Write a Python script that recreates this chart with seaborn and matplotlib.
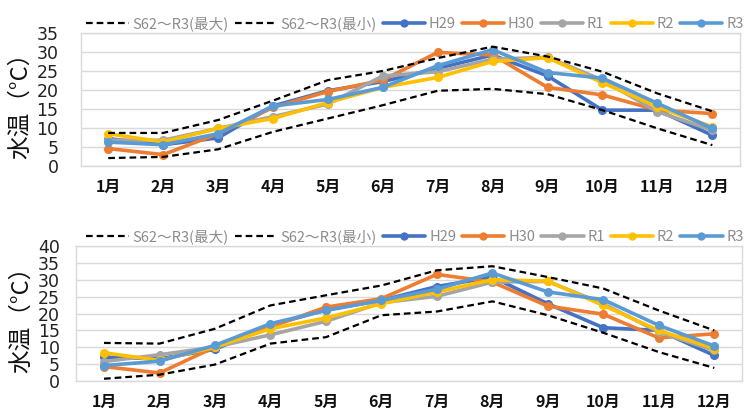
import matplotlib
matplotlib.use("Agg")
import matplotlib.pyplot as plt
import seaborn as sns
import pandas as pd
from matplotlib.lines import Line2D

months = ["1月", "2月", "3月", "4月", "5月", "6月", "7月", "8月", "9月", "10月", "11月", "12月"]
series_names = ["S62～R3(最大)", "S62～R3(最小)", "H29", "H30", "R1", "R2", "R3"]

# Top chart
top_max = [8.7, 8.7, 12.1, 17.2, 22.6, 25.0, 28.4, 31.4, 28.8, 24.8, 19.1, 14.4]
top_min = [2.1, 2.4, 4.4, 9.0, 12.5, 16.0, 19.8, 20.3, 18.9, 14.7, 9.9, 5.5]
top_h29 = [7.2, 5.6, 7.4, 15.8, 19.8, 22.2, 25.7, 29.2, 23.7, 14.7, 14.7, 8.1]
top_h30 = [4.6, 3.0, 8.5, 15.4, 19.6, 22.6, 29.9, 29.2, 20.7, 18.7, 14.7, 13.8]
top_r1 = [6.8, 6.8, 9.9, 13.0, 16.3, 23.7, 24.8, 28.1, 28.6, 22.6, 14.3, 9.4]
top_r2 = [8.5, 6.3, 9.9, 12.5, 16.7, 20.7, 23.3, 27.5, 28.5, 21.9, 15.6, 10.3]
top_r3 = [6.3, 5.6, 8.5, 15.8, 17.5, 20.7, 26.4, 30.6, 24.6, 23.1, 16.5, 9.9]

# Bottom chart
bot_max = [11.3, 11.1, 15.5, 22.4, 25.4, 28.3, 32.8, 34.0, 30.8, 27.4, 20.9, 15.0]
bot_min = [0.7, 1.9, 4.9, 11.1, 13.0, 19.5, 20.6, 23.6, 19.5, 14.3, 8.6, 3.9]
bot_h29 = [7.1, 6.6, 9.4, 16.5, 21.1, 23.9, 28.0, 30.8, 22.9, 15.8, 15.0, 7.6]
bot_h30 = [4.3, 2.4, 10.1, 16.0, 21.9, 24.4, 31.6, 29.3, 22.2, 19.8, 12.8, 14.0]
bot_r1 = [5.8, 7.8, 10.1, 13.7, 17.7, 23.2, 25.1, 29.3, 29.5, 22.9, 14.5, 9.1]
bot_r2 = [8.4, 6.1, 10.1, 15.5, 18.7, 22.9, 26.4, 30.0, 29.6, 22.4, 15.0, 9.6]
bot_r3 = [4.6, 5.9, 10.6, 17.0, 20.9, 23.9, 27.2, 32.0, 26.4, 24.1, 16.5, 10.4]

top_ticks = [0, 5, 10, 15, 20, 25, 30, 35]
bot_ticks = [0, 5, 10, 15, 20, 25, 30, 35, 40]

colors = ["black", "black", "#4472C4", "#ED7D31", "#A5A5A5", "#FFC000", "#5B9BD5"]

sns.set_theme(style="white")
plt.rcParams['font.family'] = ['Noto Sans CJK JP', 'DejaVu Sans']

fig = plt.figure(figsize=(7.48, 4.12), dpi=100)
ax1 = fig.add_axes([0.108, 0.597, 0.881, 0.323])
ax2 = fig.add_axes([0.102, 0.075, 0.890, 0.328])

def draw(ax, data, ticks, ylim, leg_x, ypad):
    x = list(range(len(months)))
    for i, (name, vals) in enumerate(zip(series_names, data)):
        if i < 2:
            sns.lineplot(x=x, y=vals, ax=ax, color="black", linewidth=1.6,
                         linestyle=(0, (3, 1.8)), zorder=5)
        else:
            sns.lineplot(x=x, y=vals, ax=ax, color=colors[i], linewidth=2.6,
                         marker="o", markersize=6.5, markeredgewidth=0, zorder=3 + i * 0.01)
    ax.set_xlim(-0.5, 11.5)
    ax.set_ylim(*ylim)
    ax.set_yticks(ticks)
    ax.set_yticklabels([str(t) for t in ticks], fontsize=12.5, color="#222222",
                       family='DejaVu Sans')
    ax.set_xticks(x)
    ax.set_xticklabels(months, fontsize=11.5, color="#111111", fontweight="bold")
    ax.tick_params(axis='y', pad=ypad, length=0)
    ax.tick_params(axis='x', pad=9, length=0)
    ax.grid(axis='y', color="#D9D9D9", linewidth=1)
    for s in ax.spines.values():
        s.set_color("#D9D9D9")
        s.set_linewidth(1)
    ax.set_ylabel("水温（°C）", fontsize=17, color="#111111", labelpad=3)
    handles = []
    for i in range(7):
        if i < 2:
            handles.append(Line2D([], [], color="black", linewidth=1.6, linestyle=(0, (3, 1.8))))
        else:
            handles.append(Line2D([], [], color=colors[i], linewidth=2.6, marker="o",
                                  markersize=6, markeredgewidth=0))
    leg = ax.legend(handles, series_names, ncol=7, loc="lower left",
                    bbox_to_anchor=(leg_x, 1.0), frameon=False,
                    prop={'size': 10.5},
                    handlelength=2.9, handletextpad=0.25, columnspacing=0.42,
                    borderaxespad=0.05, borderpad=0.1)
    for t in leg.get_texts():
        t.set_color("#8C8C8C")

draw(ax1, [top_max, top_min, top_h29, top_h30, top_r1, top_r2, top_r3], top_ticks, (0, 35), 0.005, 16)
draw(ax2, [bot_max, bot_min, bot_h29, bot_h30, bot_r1, bot_r2, bot_r3], bot_ticks, (0, 40), 0.012, 12)

fig.savefig("out.png", dpi=100)
